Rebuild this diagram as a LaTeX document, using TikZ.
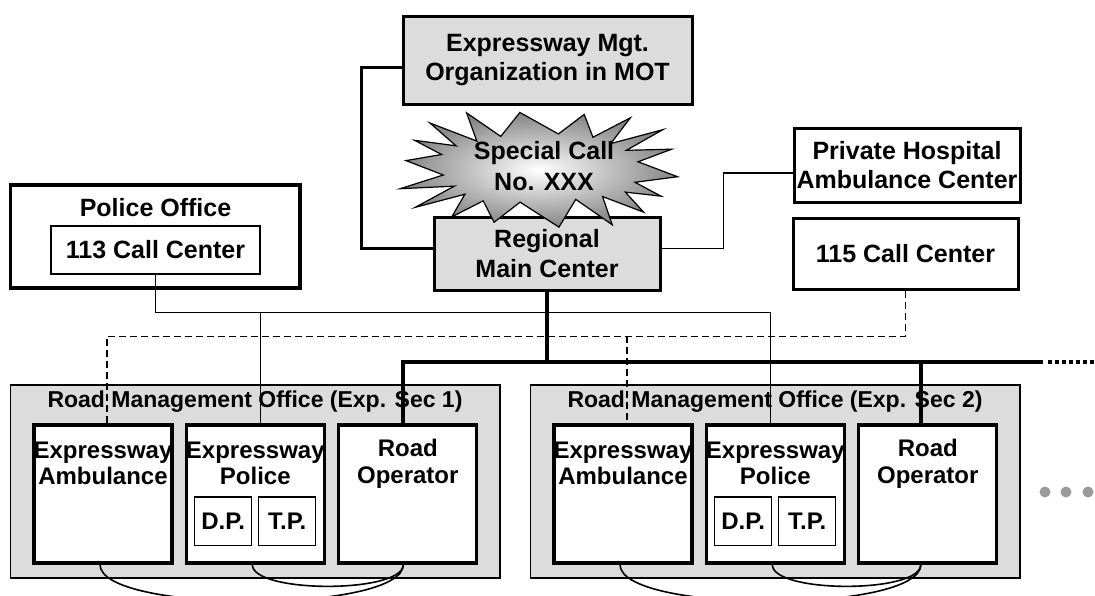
\documentclass[tikz,border=0pt]{standalone}
\usepackage{fontspec}
\setmainfont{Liberation Sans}
\usetikzlibrary{calc}
\definecolor{panel}{HTML}{DCDCDC}
\definecolor{burstedge}{HTML}{858585}
\definecolor{dotgrey}{HTML}{9A9A9A}

\begin{document}
\begin{tikzpicture}[x=1pt,y=-1pt,
  boxline/.style={draw, line width=3pt, inner sep=0pt},
  greybox/.style={boxline, fill=panel},
  lbl/.style={align=center, inner sep=0pt, font=\bfseries\fontsize{25}{#1}\selectfont},
  lbl/.default=30,
  unitbox/.style={draw, line width=3.2pt, fill=white, minimum width=138pt, minimum height=138pt, inner sep=0pt},
  unitlbl/.style={align=center, inner sep=0pt, font=\bfseries\fontsize{24}{26.7}\selectfont},
  subbox/.style={draw, line width=1.2pt, fill=white, minimum width=57pt, minimum height=48.7pt, inner sep=0pt, font=\bfseries\fontsize{24}{28}\selectfont},
  officebox/.style={draw, line width=1.6pt, fill=panel, minimum width=489.5pt, minimum height=193pt, inner sep=0pt},
  sectitle/.style={inner sep=0pt, font=\bfseries\fontsize{23}{28}\selectfont},
  wire/.style={line width=1.3pt},
  dashwire/.style={line width=1.3pt, dash pattern=on 7pt off 4pt},
  heavywire/.style={line width=3pt},
  trunk/.style={line width=4pt},
  arcwire/.style={line width=1.6pt}
]
\useasboundingbox (0,0) rectangle (1095,595);
\fill[white] (0,0) rectangle (1095,595);
\clip (0,0) rectangle (1095,595);

% central organisation
\node[greybox, minimum width=289pt, minimum height=88pt, lbl=28.5] (mgt) at (547.5,60) {Expressway Mgt.\\Organization in MOT};
\node[greybox, minimum width=226pt, minimum height=73pt, lbl=30] (reg) at (547,253.5) {Regional\\Main Center};

% special call number burst (superelliptic star, 18 spikes)
\path[draw, line width=1.2pt, shade, shading=radial, inner color=white, outer color=burstedge]
  plot[variable=\k, samples at={0,...,35}]
  ({539+(139-44*mod(\k,2))*(1+0.05*sin(\k*137))*cos(5+10*\k)*abs(cos(5+10*\k))^(-0.2-0.13*mod(\k,2))},
   {168.5+(58-25*mod(\k,2))*(1+0.05*sin(\k*137))*sin(5+10*\k)*abs(sin(5+10*\k))^(-0.2-0.13*mod(\k,2))}) -- cycle;
\node[lbl=30.5] (burst) at (544,166) {Special Call\\No. XXX};

% external centres
\node[boxline, minimum width=226pt, minimum height=74pt, lbl=28.5] (ph) at (907,165) {Private Hospital\\Ambulance Center};
\node[boxline, minimum width=225pt, minimum height=71pt, lbl] (cc115) at (905.5,253.5) {115 Call Center};
\node[boxline, line width=3.2pt, minimum width=289.5pt, minimum height=103pt] (po) at (155.25,236.5) {};
\node[lbl] (pot) at (155.5,207.5) {Police Office};
\node[draw, line width=1.5pt, minimum width=209pt, minimum height=48pt, lbl] (cc113) at (155.5,250) {113 Call Center};

% road management offices
\foreach \s/\dx in {1/0,2/520}{
  \node[officebox] (sec\s) at (255.25+\dx,481.5) {};
  \node[sectitle] (sec\s t) at (255+\dx,402) {Road Management Office (Exp. Sec \s)};
  \node[unitbox] (amb\s) at (103+\dx,494) {};
  \node[unitbox] (pol\s) at (255.3+\dx,494) {};
  \node[unitbox] (op\s) at (407.8+\dx,494) {};
  \node[unitlbl] (amb\s t) at (103+\dx,463.5) {Expressway\\Ambulance};
  \node[unitlbl] (pol\s t) at (255.3+\dx,463.5) {Expressway\\Police};
  \node[unitlbl] (op\s t) at (407.8+\dx,463.5) {Road\\Operator};
  \node[subbox] (dp\s) at (223.2+\dx,521.4) {D.P.};
  \node[subbox] (tp\s) at (287.2+\dx,521.4) {T.P.};
}

% links of the regional centre
\draw[heavywire] ($(mgt.west)+(0,7)$) -- ++(-40,0) |- ($(reg.west)+(0,-5)$);
\draw[wire, line width=1.5pt] ($(reg.east)+(0,-5)$) -- ++(62,0) |- ($(ph.west)+(0,8)$);

% police line
\draw[wire] (cc113.south) |- ($(pol2.north)+(-5,-111)$) -- ($(pol2.north)+(-5,0)$);
\draw[wire] ($(pol1.north)+(5,-111)$) -- ($(pol1.north)+(5,0)$);

% ambulance line
\draw[dashwire] (cc115.south) |- ($(amb1.north)+(4,-87)$) -- ($(amb1.north)+(4,0)$);
\draw[dashwire] ($(amb2.north)+(4,-87)$) -- ($(amb2.north)+(4,0)$);

% main trunk
\coordinate (busend) at (1043,362);
\coordinate (dotend) at (1095,362);
\draw[trunk, line width=3.5pt] (reg.south) -- (reg.south |- busend);
\draw[trunk] ($(op1.north)+(-4.5,0)$) |- (busend);
\draw[trunk] ($(op2.north)+(-7,0)$) -- ($(op2.north)+(-7,-63)$);
\draw[line width=4pt, dash pattern=on 3.5pt off 3.5pt] ($(busend)+(5,0)$) -- (dotend);

% local links inside each office
\foreach \s/\o in {1/-4.5,2/-7}{
  \draw[arcwire] ($(amb\s.south)+(-3,0)$) .. controls +(0,49) and +(0,49) .. ($(op\s.south)+(\o,0)$);
  \draw[arcwire] ($(pol\s.south)+(-3,0)$) .. controls +(0,29) and +(0,29) .. ($(op\s.south)+(\o,0)$);
}

% further offices
\foreach \px in {1045,1066,1088}
  \fill[dotgrey] (\px,492) circle (5.5pt);
\end{tikzpicture}
\end{document}
